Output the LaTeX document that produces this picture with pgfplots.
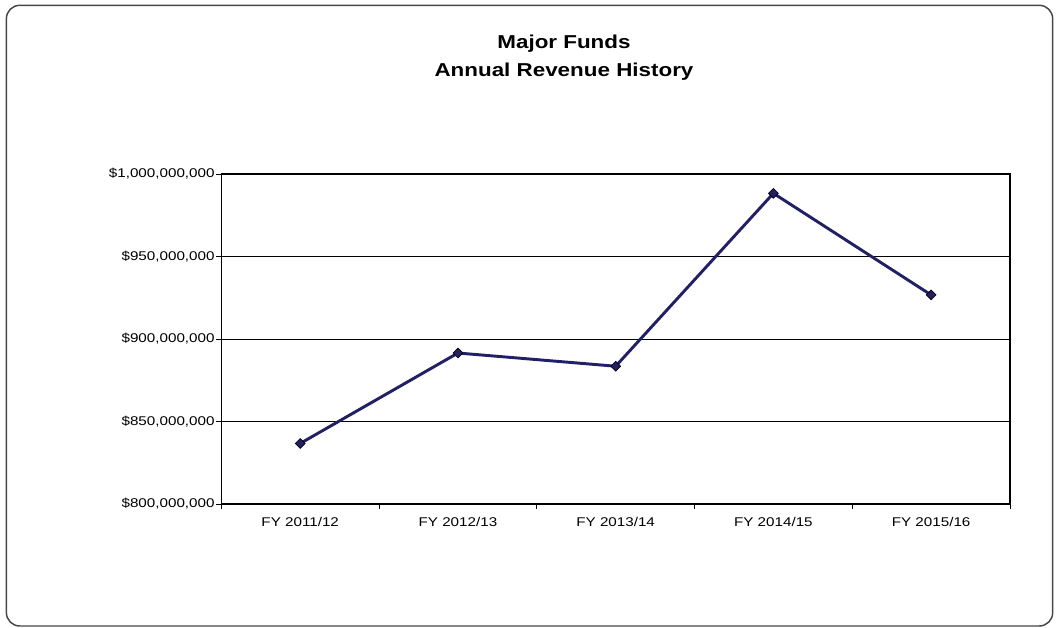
\documentclass[border=0pt]{standalone}
\usepackage{fontspec}
\setmainfont[FakeStretch=1.2]{Liberation Sans}
\usepackage{pgfplots}
\pgfplotsset{compat=1.18}
\definecolor{navy}{RGB}{34,32,100}
\definecolor{framec}{RGB}{70,70,70}
\begin{document}
\begin{tikzpicture}
\path[use as bounding box] (0,0) rectangle (793.5pt,471pt);
\draw[framec, line width=1.1pt, rounded corners=10pt] (4.8pt,1.5pt) rectangle (789.5pt,467pt);
\node[align=center, font=\bfseries\fontsize{14}{20.8}\selectfont] at (423pt,427.5pt) {Major Funds\\Annual Revenue History};
\begin{axis}[
  at={(166pt,93pt)}, anchor=south west, scale only axis,
  width=591.5pt, height=247.5pt,
  xmin=0, xmax=5, ymin=800, ymax=1000,
  xtick={0.5,1.5,2.5,3.5,4.5},
  xticklabels={FY 2011/12,FY 2012/13,FY 2013/14,FY 2014/15,FY 2015/16},
  major x tick style={draw=none},
  minor xtick={0,1,2,3,4,5},
  ytick={800,850,900,950,1000},
  yticklabels={{\$800,000,000},{\$850,000,000},{\$900,000,000},{\$950,000,000},{\$1,000,000,000}},
  tick pos=left, tick align=outside,
  major tick length=3.75pt, minor tick length=3.75pt,
  ymajorgrids, grid style={black, line width=0.6pt},
  axis line style={black, line width=0.8pt},
  tick style={black, line width=0.6pt},
  tick label style={font=\fontsize{9.5}{11}\selectfont},
  xticklabel style={yshift=-2.5pt},
  yticklabel style={xshift=2.2pt},
  /pgf/number format/assume math mode=true,
]
\addplot[navy, line width=2.2pt, mark=square*, mark size=2.6pt,
  mark options={fill=navy, draw=black, line width=0.5pt, rotate=45}]
  coordinates {(0.5,836.7) (1.5,891.5) (2.5,883.5) (3.5,988.3) (4.5,926.7)};
\end{axis}
\end{tikzpicture}
\end{document}
